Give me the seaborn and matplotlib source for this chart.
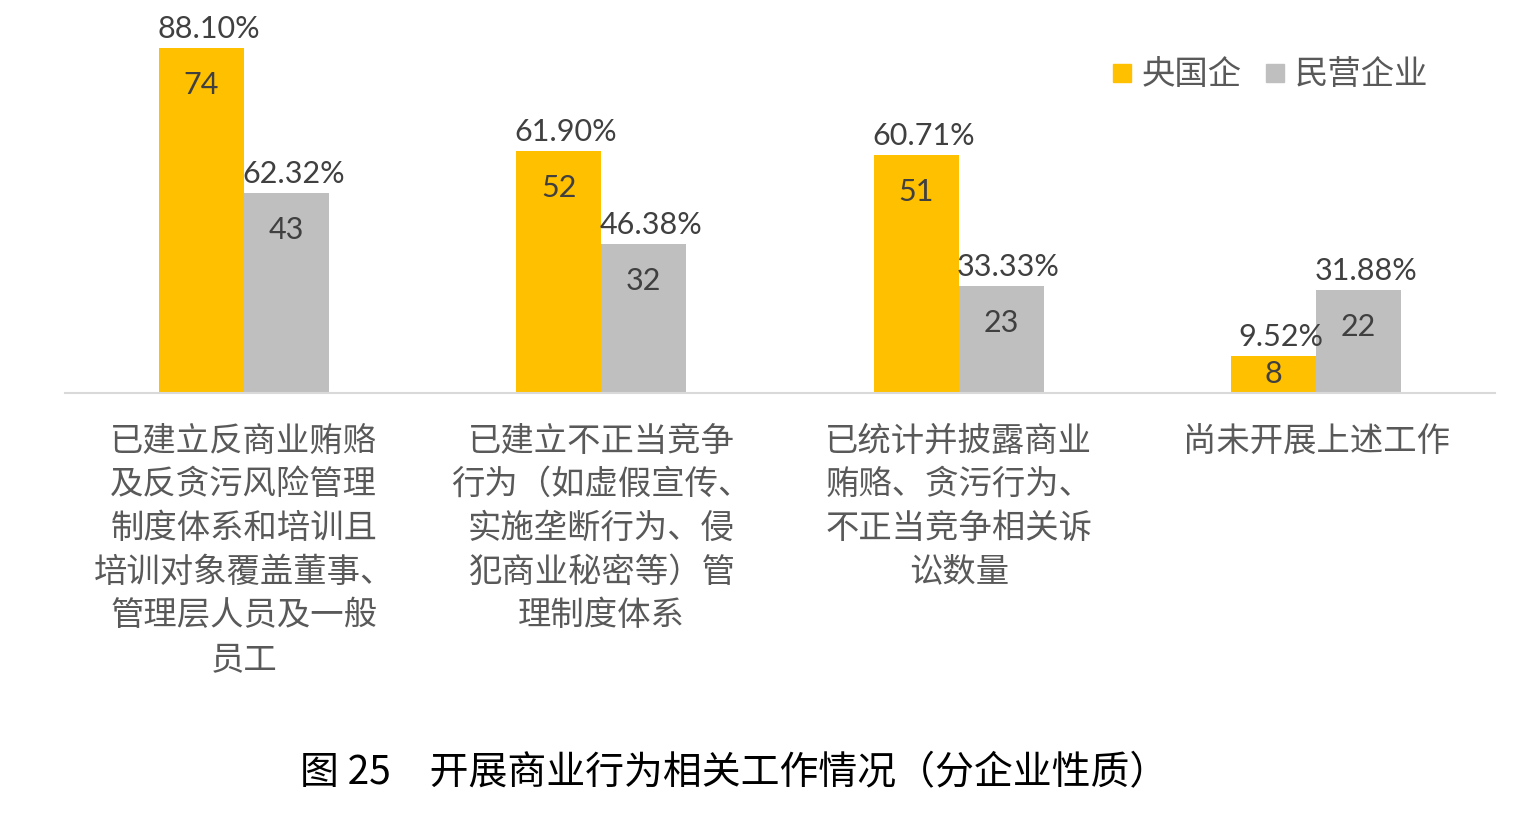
import matplotlib
matplotlib.use("Agg")
import matplotlib.pyplot as plt
import seaborn as sns
import pandas as pd
from matplotlib.lines import Line2D

categories = [
    "已建立反商业贿赂\n及反贪污风险管理\n制度体系和培训且\n培训对象覆盖董事、\n管理层人员及一般\n员工",
    "已建立不正当竞争\n行为（如虚假宣传、\n实施垄断行为、侵\n犯商业秘密等）管\n理制度体系",
    "已统计并披露商业\n贿赂、贪污行为、\n不正当竞争相关诉\n讼数量",
    "尚未开展上述工作",
]
series_names = ["央国企", "民营企业"]
soe_counts = [74, 52, 51, 8]
private_counts = [43, 32, 23, 22]
soe_pct = ["88.10%", "61.90%", "60.71%", "9.52%"]
private_pct = ["62.32%", "46.38%", "33.33%", "31.88%"]

colors = ["#FFC000", "#BFBFBF"]
num_color = "#404040"
cjk = ["Noto Sans CJK SC", "DejaVu Sans"]

sns.set_theme(style="white")
plt.rcParams["font.family"] = cjk

df = pd.DataFrame({
    "cat": categories * 2,
    "series": [series_names[0]] * 4 + [series_names[1]] * 4,
    "count": soe_counts + private_counts,
})

W, H, DPI = 15.27, 8.27, 100
fig = plt.figure(figsize=(W, H), dpi=DPI)
ax_left, ax_bottom, ax_w, ax_h = 65 / 1527, 1 - 393 / 827, 1430 / 1527, 385 / 827
ax = fig.add_axes([ax_left, ax_bottom, ax_w, ax_h])

sns.barplot(data=df, x="cat", y="count", hue="series", palette=colors,
            width=0.475, ax=ax, legend=False, saturation=1, linewidth=0)

ymax = 82.6
ax.set_ylim(0, ymax)
ax.set_xlim(-0.5, 3.5)
px_per_unit = ax_h * H * DPI / ymax

for s in ["top", "right", "left"]:
    ax.spines[s].set_visible(False)
ax.spines["bottom"].set_color("#D9D9D9")
ax.spines["bottom"].set_linewidth(1.5)
ax.set_yticks([])
ax.set_xlabel("")
ax.set_ylabel("")
ax.tick_params(axis="x", length=0, pad=22)
ax.set_xticks(range(len(categories)))
ax.set_xticklabels(categories, fontsize=24, color="#595959", linespacing=1.32,
                   family=cjk)

bw = 0.475 / 2
for i in range(len(categories)):
    for j, (cnts, pcts) in enumerate([(soe_counts, soe_pct), (private_counts, private_pct)]):
        xc = i - bw / 2 + j * bw
        h = cnts[i]
        ax.text(xc + 0.02, h + 19 / px_per_unit, pcts[i], ha="center", va="center",
                fontsize=22, color=num_color, family="Lato")
        yin = max(h - 37 / px_per_unit, h / 2)
        ax.text(xc, yin, str(h), ha="center", va="center",
                fontsize=22, color=num_color, family="Lato")

handles = [Line2D([0], [0], marker="s", linestyle="none", markersize=13,
                  markerfacecolor=c, markeredgecolor=c) for c in colors]
ax.legend(handles, series_names, loc="center right", bbox_to_anchor=(0.9745, 0.826),
          ncol=2, frameon=False, handletextpad=0.2, columnspacing=0.6,
          handlelength=0.8, prop={"family": cjk, "size": 24}, labelcolor="#595959")

fig.text(0.481, 1 - 773 / 827, "图 25　开展商业行为相关工作情况（分企业性质）",
         ha="center", va="center", fontsize=28, color="black", family=cjk)

fig.savefig("out.png", dpi=DPI)
